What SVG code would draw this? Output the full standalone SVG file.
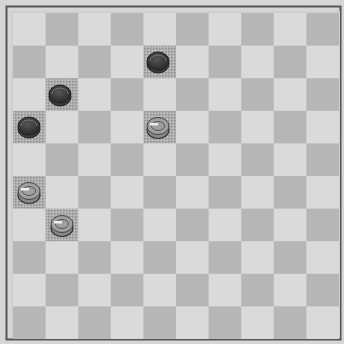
<svg xmlns="http://www.w3.org/2000/svg" width="344" height="344" viewBox="0 0 344 344">
<defs>
<pattern id="hatch" width="3" height="3" patternUnits="userSpaceOnUse">
<rect width="3" height="3" fill="#ababab"/>
<rect width="1.5" height="1.5" fill="#959595"/>
<rect x="1.5" y="1.5" width="1.5" height="1.5" fill="#c2c2c2"/>
</pattern>
<radialGradient id="blk" cx="0.45" cy="0.4" r="0.6">
<stop offset="0" stop-color="#555"/>
<stop offset="1" stop-color="#2a2a2a"/>
</radialGradient>
</defs>
<style>
.l{fill:#dadada}
.d{fill:#b6b6b6}
.h{fill:url(#hatch)}
.bp{fill:url(#blk);stroke:#222;stroke-width:1}
.bb{fill:#3a3a3a;stroke:#222;stroke-width:1}
.wp{fill:#888;stroke:#333;stroke-width:1.2}
.wt{fill:#a0a0a0;stroke:#444;stroke-width:1}
.hi{fill:#eee}
</style>
<rect width="344" height="344" fill="#d6d6d6"/>
<rect x="6.5" y="6.5" width="334" height="333" fill="none" stroke="#555" stroke-width="2"/>
<rect x="11" y="11" width="329" height="327" fill="#cfcfcf"/>
<g id="board">
<rect x="13" y="13" width="326" height="326" class="l"/>
<g class="d">
<rect x="45.6" y="13" width="32.6" height="32.6"/><rect x="110.8" y="13" width="32.6" height="32.6"/><rect x="176" y="13" width="32.6" height="32.6"/><rect x="241.2" y="13" width="32.6" height="32.6"/><rect x="306.4" y="13" width="32.6" height="32.6"/>
<rect x="13" y="45.6" width="32.6" height="32.6"/><rect x="78.2" y="45.6" width="32.6" height="32.6"/><rect x="208.6" y="45.6" width="32.6" height="32.6"/><rect x="273.8" y="45.6" width="32.6" height="32.6"/>
<rect x="110.8" y="78.2" width="32.6" height="32.6"/><rect x="176" y="78.2" width="32.6" height="32.6"/><rect x="241.2" y="78.2" width="32.6" height="32.6"/><rect x="306.4" y="78.2" width="32.6" height="32.6"/>
<rect x="78.2" y="110.8" width="32.6" height="32.6"/><rect x="208.6" y="110.8" width="32.6" height="32.6"/><rect x="273.8" y="110.8" width="32.6" height="32.6"/>
<rect x="45.6" y="143.4" width="32.6" height="32.6"/><rect x="110.8" y="143.4" width="32.6" height="32.6"/><rect x="176" y="143.4" width="32.6" height="32.6"/><rect x="241.2" y="143.4" width="32.6" height="32.6"/><rect x="306.4" y="143.4" width="32.6" height="32.6"/>
<rect x="78.2" y="176" width="32.6" height="32.6"/><rect x="143.4" y="176" width="32.6" height="32.6"/><rect x="208.6" y="176" width="32.6" height="32.6"/><rect x="273.8" y="176" width="32.6" height="32.6"/>
<rect x="110.8" y="208.6" width="32.6" height="32.6"/><rect x="176" y="208.6" width="32.6" height="32.6"/><rect x="241.2" y="208.6" width="32.6" height="32.6"/><rect x="306.4" y="208.6" width="32.6" height="32.6"/>
<rect x="13" y="241.2" width="32.6" height="32.6"/><rect x="78.2" y="241.2" width="32.6" height="32.6"/><rect x="143.4" y="241.2" width="32.6" height="32.6"/><rect x="208.6" y="241.2" width="32.6" height="32.6"/><rect x="273.8" y="241.2" width="32.6" height="32.6"/>
<rect x="45.6" y="273.8" width="32.6" height="32.6"/><rect x="110.8" y="273.8" width="32.6" height="32.6"/><rect x="176" y="273.8" width="32.6" height="32.6"/><rect x="241.2" y="273.8" width="32.6" height="32.6"/><rect x="306.4" y="273.8" width="32.6" height="32.6"/>
<rect x="13" y="306.4" width="32.6" height="32.6"/><rect x="78.2" y="306.4" width="32.6" height="32.6"/><rect x="143.4" y="306.4" width="32.6" height="32.6"/><rect x="208.6" y="306.4" width="32.6" height="32.6"/><rect x="273.8" y="306.4" width="32.6" height="32.6"/>
</g>
<g class="h">
<rect x="143.4" y="45.6" width="32.6" height="32.6"/>
<rect x="45.6" y="78.2" width="32.6" height="32.6"/>
<rect x="13" y="110.8" width="32.6" height="32.6"/>
<rect x="143.4" y="110.8" width="32.6" height="32.6"/>
<rect x="13" y="176" width="32.6" height="32.6"/>
<rect x="45.6" y="208.6" width="32.6" height="32.6"/>
</g>
</g>
<g id="piece-b1">
<ellipse cx="158" cy="64" rx="11" ry="9" class="bb"/>
<ellipse cx="158" cy="61" rx="11" ry="9" class="bp"/>
<path d="M150 61 a8 6 0 0 1 16 0" fill="none" stroke="#777" stroke-width="1"/>
</g>
<g id="piece-b2">
<ellipse cx="60" cy="97" rx="11" ry="9" class="bb"/>
<ellipse cx="60" cy="94" rx="11" ry="9" class="bp"/>
<path d="M52 94 a8 6 0 0 1 16 0" fill="none" stroke="#777" stroke-width="1"/>
</g>
<g id="piece-b3">
<ellipse cx="29" cy="129" rx="11" ry="9" class="bb"/>
<ellipse cx="29" cy="126" rx="11" ry="9" class="bp"/>
<path d="M21 126 a8 6 0 0 1 16 0" fill="none" stroke="#777" stroke-width="1"/>
</g>
<g id="piece-w1">
<ellipse cx="158" cy="130" rx="11" ry="8.5" class="wp"/>
<ellipse cx="158" cy="126" rx="11" ry="8.5" class="wt"/>
<ellipse cx="158" cy="126" rx="6.5" ry="4.5" fill="none" stroke="#555" stroke-width="1"/>
<rect x="150" y="123" width="8" height="2.5" class="hi"/>
</g>
<g id="piece-w2">
<ellipse cx="29" cy="195" rx="11" ry="8.5" class="wp"/>
<ellipse cx="29" cy="191" rx="11" ry="8.5" class="wt"/>
<ellipse cx="29" cy="191" rx="6.5" ry="4.5" fill="none" stroke="#555" stroke-width="1"/>
<rect x="21" y="188" width="8" height="2.5" class="hi"/>
</g>
<g id="piece-w3">
<ellipse cx="62" cy="228" rx="11" ry="8.5" class="wp"/>
<ellipse cx="62" cy="224" rx="11" ry="8.5" class="wt"/>
<ellipse cx="62" cy="224" rx="6.5" ry="4.5" fill="none" stroke="#555" stroke-width="1"/>
<rect x="54" y="221" width="8" height="2.5" class="hi"/>
</g>
</svg>
